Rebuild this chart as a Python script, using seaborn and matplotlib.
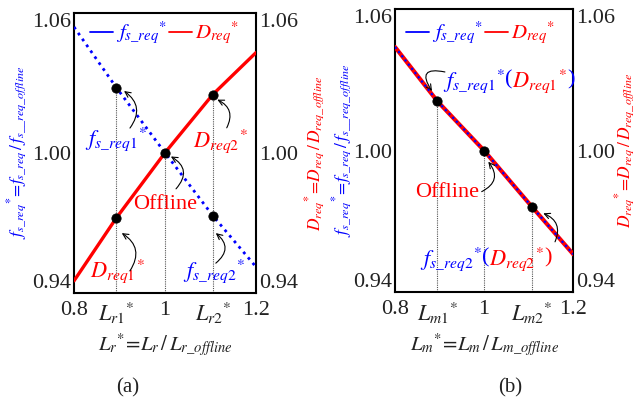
import numpy as np
import matplotlib
matplotlib.use('Agg')
import matplotlib.pyplot as plt
import matplotlib.transforms as mtransforms
from matplotlib.lines import Line2D
import seaborn as sns

# Datos
# (a) variacion de Lr
lr_x = [0.8, 0.893, 1.0, 1.105, 1.2]
lr_fs = [1.054, 1.028, 1.0, 0.973, 0.951]
lr_d = [0.945, 0.972, 1.0, 1.025, 1.043]
lr_pts_x = [0.893, 1.0, 1.105]
lr_pts_fs = [1.028, 1.0, 0.973]
lr_pts_d = [0.972, 1.0, 1.025]
lr_ticks = [0.8, 0.893, 1.0, 1.105, 1.2]
lr_ticklabels = ['0.8', r'$L_{r\mathrm{1}}{}^{*}$', '1', r'$L_{r\mathrm{2}}{}^{*}$', '1.2']

# (b) variacion de Lm
lm_x = [0.8, 0.895, 1.0, 1.108, 1.2]
lm_fs = [1.044, 1.021, 1.0, 0.976, 0.956]
lm_d = [1.044, 1.021, 1.0, 0.976, 0.956]
lm_pts_x = [0.895, 1.0, 1.108]
lm_pts_y = [1.021, 1.0, 0.976]
lm_ticks = [0.8, 0.895, 1.0, 1.108, 1.2]
lm_ticklabels = ['0.8', r'$L_{m\mathrm{1}}{}^{*}$', '1', r'$L_{m\mathrm{2}}{}^{*}$', '1.2']

y_ticks = [0.94, 1.00, 1.06]
y_ticklabels = ['0.94', '1.00', '1.06']

sns.set_style('white')
plt.rcParams['font.family'] = ['Liberation Serif', 'DejaVu Sans']
plt.rcParams['mathtext.fontset'] = 'stix'

AZUL = '#0000ff'
ROJO = '#ff0000'
TXT = '#222222'

fig = plt.figure(figsize=(6.36, 4.01), dpi=100)
ax_a = fig.add_axes([74 / 636, (401 - 292.5) / 401, 182 / 636, 279.5 / 401])
ax_b = fig.add_axes([395 / 636, (401 - 292) / 401, 178.3 / 636, 282.7 / 401])


def base_axes(ax, ticks, ticklabels, xlabel):
    ax.set_xlim(0.8, 1.2)
    ax.set_ylim(0.94, 1.06)
    ax.set_xticks(ticks)
    ax.set_xticklabels(ticklabels)
    ax.set_yticks(y_ticks)
    ax.set_yticklabels(y_ticklabels)
    ax.tick_params(axis='y', length=0, labelleft=True, labelright=True,
                   labelsize=16, labelcolor=TXT, pad=2)
    ax.tick_params(axis='x', length=0, labelsize=16, labelcolor=TXT, pad=6)
    for lab in ax.get_yticklabels():
        if lab.get_text() == '1.06':
            lab.set_va('top')
        elif lab.get_text() == '0.94':
            lab.set_va('bottom')
    for sp in ax.spines.values():
        sp.set_color('black')
        sp.set_linewidth(1.5)
    ax.set_xlabel(xlabel, fontsize=15, color=TXT, va='center')
    ax.xaxis.set_label_coords(0.5, -0.188)
    ax.set_ylabel('')


def leyenda(ax, x, y):
    handles = [Line2D([], [], color=AZUL, lw=1.3), Line2D([], [], color=ROJO, lw=1.3)]
    labels = [r'$f_{s\_req}{}^{*}$', r'$D_{req}{}^{*}$']
    ax.legend(handles, labels, loc='center', bbox_to_anchor=(x, y), ncol=2,
              frameon=False, fontsize=15, handlelength=1.1, handletextpad=0.15,
              columnspacing=0.1, labelcolor='linecolor', borderpad=0)


def flecha(ax, start, end, rad):
    ax.annotate('', xy=end, xytext=start,
                arrowprops=dict(arrowstyle='->', color='black', lw=0.8,
                                shrinkA=0, shrinkB=0,
                                connectionstyle=f'arc3,rad={rad}'))


def texto_color(ax, x, y, piezas, size=16):
    # piezas de texto de distintos colores, una tras otra
    renderer = fig.canvas.get_renderer()
    dx = 0
    for s, c in piezas:
        tr = mtransforms.offset_copy(ax.transData, fig=fig, x=dx, y=0, units='dots')
        t = ax.text(x, y, s, color=c, fontsize=size, transform=tr,
                    ha='left', va='center_baseline')
        dx += t.get_window_extent(renderer).width


def etiqueta_y(ax, x, texto, color):
    ax.text(x, 0.5, texto, color=color, fontsize=12.5, rotation=90,
            transform=ax.transAxes, ha='center', va='center')


ylab_fs = r'$f_{s\_req}{}^{*}\!=\!f_{s\_req}\,/\,f_{s\_\_req\_offline}$'
ylab_d = r'$D_{req}{}^{*}\!=\!D_{req}\,/\,D_{req\_offline}$'

# ---------------- (a) ----------------
base_axes(ax_a, lr_ticks, lr_ticklabels, r'$L_{r}{}^{*}\!=\!L_{r}\,/\,L_{r\_offline}$')
ax_a.vlines(lr_pts_x, 0.94, [lr_pts_fs[0], 1.0, lr_pts_d[2]], colors='#555555',
            linestyles=(0, (1, 1)), lw=0.8, zorder=1)
sns.lineplot(x=lr_x, y=lr_d, ax=ax_a, color=ROJO, lw=2.4, zorder=3)
sns.lineplot(x=lr_x, y=lr_fs, ax=ax_a, color=AZUL, lw=2.0, linestyle=(0, (1, 1.6)), zorder=3)
sns.scatterplot(x=[lr_pts_x[0], lr_pts_x[1], lr_pts_x[2], lr_pts_x[0], lr_pts_x[2]],
                y=[lr_pts_fs[0], lr_pts_fs[1], lr_pts_d[2], lr_pts_d[0], lr_pts_fs[2]],
                ax=ax_a, color='black', s=45, edgecolor='black', zorder=5)
leyenda(ax_a, 0.5, 0.928)
etiqueta_y(ax_a, -0.31, ylab_fs, AZUL)
etiqueta_y(ax_a, 1.325, ylab_d, ROJO)

texto_color(ax_a, 0.824, 1.0076, [(r'$f_{s\_req\mathrm{1}}{}^{*}$', AZUL)])
texto_color(ax_a, 1.0615, 1.0069, [(r'$D_{req\mathrm{2}}{}^{*}$', ROJO)])
ax_a.text(1.0, 0.9776, 'Offline', color=ROJO, fontsize=16, ha='center', va='center')
texto_color(ax_a, 0.835, 0.9511, [(r'$D_{req\mathrm{1}}{}^{*}$', ROJO)])
texto_color(ax_a, 1.0396, 0.9511, [(r'$f_{s\_req\mathrm{2}}{}^{*}$', AZUL)])

flecha(ax_a, (0.923, 1.0106), (0.910, 1.0265), 0.5)
flecha(ax_a, (1.1357, 1.0107), (1.115, 1.0228), 0.5)
flecha(ax_a, (1.0242, 0.9845), (1.013, 0.9984), 0.6)
flecha(ax_a, (0.923, 0.9493), (0.905, 0.9655), 0.5)
flecha(ax_a, (1.1117, 0.9526), (1.1117, 0.9655), 0.6)

# ---------------- (b) ----------------
base_axes(ax_b, lm_ticks, lm_ticklabels, r'$L_{m}{}^{*}\!=\!L_{m}\,/\,L_{m\_offline}$')
ax_b.vlines(lm_pts_x, 0.94, lm_pts_y, colors='#555555',
            linestyles=(0, (1, 1)), lw=0.8, zorder=1)
sns.lineplot(x=lm_x, y=lm_d, ax=ax_b, color=ROJO, lw=3.0, zorder=3)
sns.lineplot(x=lm_x, y=lm_fs, ax=ax_b, color=AZUL, lw=1.6, linestyle=(0, (1, 1.4)), zorder=4)
sns.scatterplot(x=lm_pts_x, y=lm_pts_y, ax=ax_b, color='black', s=45,
                edgecolor='black', zorder=5)
leyenda(ax_b, 0.48, 0.916)
etiqueta_y(ax_b, -0.295, ylab_fs, AZUL)
etiqueta_y(ax_b, 1.29, ylab_d, ROJO)

texto_color(ax_b, 0.9077, 1.0312, [(r'$f_{s\_req\mathrm{1}}{}^{*}$', AZUL), ('(', AZUL),
                                   (r'$D_{req\mathrm{1}}{}^{*}$', ROJO), (')', AZUL)])
ax_b.text(0.9178, 0.9824, 'Offline', color=ROJO, fontsize=16, ha='center', va='center')
texto_color(ax_b, 0.856, 0.9557, [(r'$f_{s\_req\mathrm{2}}{}^{*}$', AZUL), ('(', AZUL),
                                  (r'$D_{req\mathrm{2}}{}^{*}$', ROJO), (')', ROJO)])

flecha(ax_b, (0.912, 1.0334), (0.883, 1.0253), 1.2)
flecha(ax_b, (0.9945, 0.9826), (1.0093, 0.9953), 0.6)
flecha(ax_b, (1.159, 0.9613), (1.1327, 0.9734), 0.5)

fig.text(128 / 636, 1 - 388 / 401, '(a)', fontsize=15, color=TXT, ha='center', va='center')
fig.text(510 / 636, 1 - 388 / 401, '(b)', fontsize=15, color=TXT, ha='center', va='center')

plt.savefig('out.png', dpi=100)
